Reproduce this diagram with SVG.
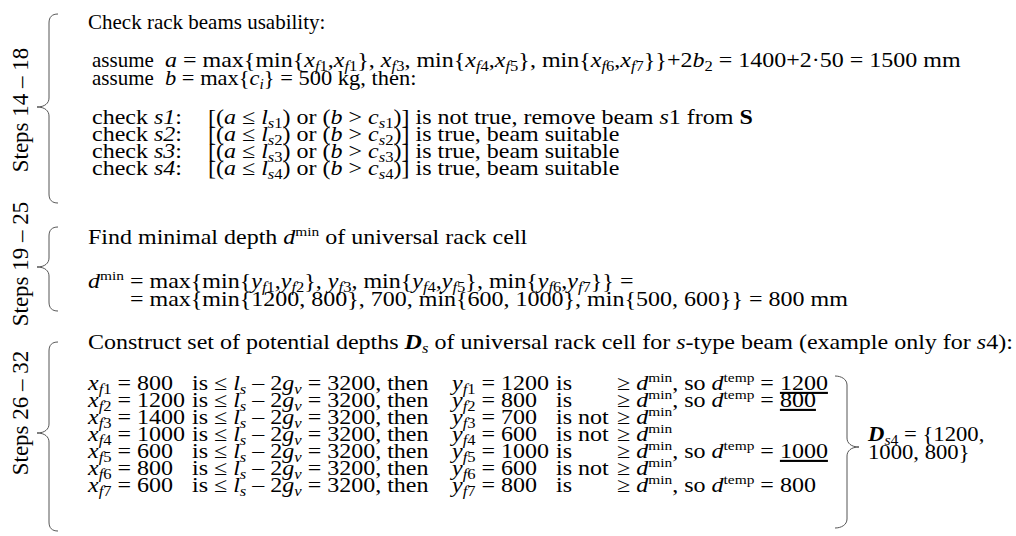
<svg xmlns="http://www.w3.org/2000/svg" width="1016" height="536" viewBox="0 0 1016 536">
<style>
text{font-family:"Liberation Serif","Times New Roman",serif;font-size:21px;fill:#000}
.i{font-style:italic}
.b{font-weight:bold}
.bi{font-weight:bold;font-style:italic}
.sub{font-size:14.5px;baseline-shift:-4px}
.sup{font-size:13.5px;baseline-shift:8px}
.u{text-decoration:underline}
.lab{font-size:23px}
.brace{fill:none;stroke:#555;stroke-width:1}
</style>
<rect width="1016" height="536" fill="#fff"/>
<g id="connectors">
<path class="brace" d="M58,14 C52,14 49,17 49,23 L49,98 C49,103 45,107 37,107 C45,107 49,111 49,116 L49,194 C49,200 52,203 58,203"/>
<path class="brace" d="M58,227 C52,227 49,230 49,236 L49,258 C49,263 45,267 37,267 C45,267 49,271 49,276 L49,302 C49,308 52,311 58,311"/>
<path class="brace" d="M58,342 C52,342 49,345 49,351 L49,424 C49,429 45,433 37,433 C45,433 49,437 49,442 L49,522 C49,528 52,531 58,531"/>
<path class="brace" d="M835,376 C841,376 847,379 847,385 L847,438 C847,443 851,447 859,447 C851,447 847,451 847,456 L847,519 C847,525 841,528 835,528"/>
</g>
<g id="labels">
<text class="lab" transform="translate(28,110) rotate(-90)" text-anchor="middle">Steps 14 – 18</text>
<text class="lab" transform="translate(28,264) rotate(-90)" text-anchor="middle">Steps 19 – 25</text>
<text class="lab" transform="translate(28,413) rotate(-90)" text-anchor="middle">Steps 26 – 32</text>
</g>
<g id="sec1">
<text x="88" y="29">Check rack beams usability:</text>
<text x="92" y="67">assume</text>
<text transform="translate(165 67) scale(1.143 1)"><tspan class="i">a</tspan> = max{min{<tspan class="i">x</tspan><tspan class="sub"><tspan class="i">f</tspan>1</tspan>,<tspan class="i">x</tspan><tspan class="sub"><tspan class="i">f</tspan>1</tspan>}, <tspan class="i">x</tspan><tspan class="sub"><tspan class="i">f</tspan>3</tspan>, min{<tspan class="i">x</tspan><tspan class="sub"><tspan class="i">f</tspan>4</tspan>,<tspan class="i">x</tspan><tspan class="sub"><tspan class="i">f</tspan>5</tspan>}, min{<tspan class="i">x</tspan><tspan class="sub"><tspan class="i">f</tspan>6</tspan>,<tspan class="i">x</tspan><tspan class="sub"><tspan class="i">f</tspan>7</tspan>}}+2<tspan class="i">b</tspan><tspan class="sub">2</tspan> = 1400+2·50 = 1500 mm</text>
<text x="92" y="85">assume</text>
<text transform="translate(165 85) scale(1.07 1)"><tspan class="i">b</tspan> = max{<tspan class="i">c</tspan><tspan class="sub i">i</tspan>} = 500 kg, then:</text>
<text transform="translate(92 124) scale(1.143 1)">check <tspan class="i">s1</tspan>:</text>
<text transform="translate(208 124) scale(1.143 1)">[(<tspan class="i">a</tspan> ≤ <tspan class="i">l</tspan><tspan class="sub"><tspan class="i">s</tspan>1</tspan>) or (<tspan class="i">b</tspan> &gt; <tspan class="i">c</tspan><tspan class="sub"><tspan class="i">s</tspan>1</tspan>)] is not true, remove beam <tspan class="i">s</tspan>1 from <tspan class="b">S</tspan></text>
<text transform="translate(92 141) scale(1.143 1)">check <tspan class="i">s2</tspan>:</text>
<text transform="translate(208 141) scale(1.143 1)">[(<tspan class="i">a</tspan> ≤ <tspan class="i">l</tspan><tspan class="sub"><tspan class="i">s</tspan>2</tspan>) or (<tspan class="i">b</tspan> &gt; <tspan class="i">c</tspan><tspan class="sub"><tspan class="i">s</tspan>2</tspan>)] is true, beam suitable</text>
<text transform="translate(92 158) scale(1.143 1)">check <tspan class="i">s3</tspan>:</text>
<text transform="translate(208 158) scale(1.143 1)">[(<tspan class="i">a</tspan> ≤ <tspan class="i">l</tspan><tspan class="sub"><tspan class="i">s</tspan>3</tspan>) or (<tspan class="i">b</tspan> &gt; <tspan class="i">c</tspan><tspan class="sub"><tspan class="i">s</tspan>3</tspan>)] is true, beam suitable</text>
<text transform="translate(92 175) scale(1.143 1)">check <tspan class="i">s4</tspan>:</text>
<text transform="translate(208 175) scale(1.143 1)">[(<tspan class="i">a</tspan> ≤ <tspan class="i">l</tspan><tspan class="sub"><tspan class="i">s</tspan>4</tspan>) or (<tspan class="i">b</tspan> &gt; <tspan class="i">c</tspan><tspan class="sub"><tspan class="i">s</tspan>4</tspan>)] is true, beam suitable</text>
</g>
<g id="sec2">
<text transform="translate(88 244) scale(1.143 1)">Find minimal depth <tspan class="i">d</tspan><tspan class="sup">min</tspan> of universal rack cell</text>
<text transform="translate(88 288) scale(1.143 1)"><tspan class="i">d</tspan><tspan class="sup">min</tspan> = max{min{<tspan class="i">y</tspan><tspan class="sub"><tspan class="i">f</tspan>1</tspan>,<tspan class="i">y</tspan><tspan class="sub"><tspan class="i">f</tspan>2</tspan>}, <tspan class="i">y</tspan><tspan class="sub"><tspan class="i">f</tspan>3</tspan>, min{<tspan class="i">y</tspan><tspan class="sub"><tspan class="i">f</tspan>4</tspan>,<tspan class="i">y</tspan><tspan class="sub"><tspan class="i">f</tspan>5</tspan>}, min{<tspan class="i">y</tspan><tspan class="sub"><tspan class="i">f</tspan>6</tspan>,<tspan class="i">y</tspan><tspan class="sub"><tspan class="i">f</tspan>7</tspan>}} =</text>
<text transform="translate(130 306) scale(1.143 1)">= max{min{1200, 800}, 700, min{600, 1000}, min{500, 600}} = 800 mm</text>
</g>
<g id="sec3">
<text transform="translate(88 349) scale(1.143 1)">Construct set of potential depths <tspan class="bi">D</tspan><tspan class="sub i">s</tspan> of universal rack cell for <tspan class="i">s</tspan>-type beam (example only for <tspan class="i">s</tspan>4):</text>
<text transform="translate(88 390) scale(1.143 1)"><tspan class="i">x</tspan><tspan class="sub"><tspan class="i">f</tspan>1</tspan> = 800</text>
<text transform="translate(88 407) scale(1.143 1)"><tspan class="i">x</tspan><tspan class="sub"><tspan class="i">f</tspan>2</tspan> = 1200</text>
<text transform="translate(88 424) scale(1.143 1)"><tspan class="i">x</tspan><tspan class="sub"><tspan class="i">f</tspan>3</tspan> = 1400</text>
<text transform="translate(88 441) scale(1.143 1)"><tspan class="i">x</tspan><tspan class="sub"><tspan class="i">f</tspan>4</tspan> = 1000</text>
<text transform="translate(88 458) scale(1.143 1)"><tspan class="i">x</tspan><tspan class="sub"><tspan class="i">f</tspan>5</tspan> = 600</text>
<text transform="translate(88 475) scale(1.143 1)"><tspan class="i">x</tspan><tspan class="sub"><tspan class="i">f</tspan>6</tspan> = 800</text>
<text transform="translate(88 492) scale(1.143 1)"><tspan class="i">x</tspan><tspan class="sub"><tspan class="i">f</tspan>7</tspan> = 600</text>
<text transform="translate(192 390) scale(1.143 1)">is ≤ <tspan class="i">l</tspan><tspan class="sub i">s</tspan> – 2<tspan class="i">g</tspan><tspan class="sub i">v</tspan> = 3200, then</text>
<text transform="translate(192 407) scale(1.143 1)">is ≤ <tspan class="i">l</tspan><tspan class="sub i">s</tspan> – 2<tspan class="i">g</tspan><tspan class="sub i">v</tspan> = 3200, then</text>
<text transform="translate(192 424) scale(1.143 1)">is ≤ <tspan class="i">l</tspan><tspan class="sub i">s</tspan> – 2<tspan class="i">g</tspan><tspan class="sub i">v</tspan> = 3200, then</text>
<text transform="translate(192 441) scale(1.143 1)">is ≤ <tspan class="i">l</tspan><tspan class="sub i">s</tspan> – 2<tspan class="i">g</tspan><tspan class="sub i">v</tspan> = 3200, then</text>
<text transform="translate(192 458) scale(1.143 1)">is ≤ <tspan class="i">l</tspan><tspan class="sub i">s</tspan> – 2<tspan class="i">g</tspan><tspan class="sub i">v</tspan> = 3200, then</text>
<text transform="translate(192 475) scale(1.143 1)">is ≤ <tspan class="i">l</tspan><tspan class="sub i">s</tspan> – 2<tspan class="i">g</tspan><tspan class="sub i">v</tspan> = 3200, then</text>
<text transform="translate(192 492) scale(1.143 1)">is ≤ <tspan class="i">l</tspan><tspan class="sub i">s</tspan> – 2<tspan class="i">g</tspan><tspan class="sub i">v</tspan> = 3200, then</text>
<text transform="translate(452 390) scale(1.143 1)"><tspan class="i">y</tspan><tspan class="sub"><tspan class="i">f</tspan>1</tspan> = 1200</text>
<text transform="translate(452 407) scale(1.143 1)"><tspan class="i">y</tspan><tspan class="sub"><tspan class="i">f</tspan>2</tspan> = 800</text>
<text transform="translate(452 424) scale(1.143 1)"><tspan class="i">y</tspan><tspan class="sub"><tspan class="i">f</tspan>3</tspan> = 700</text>
<text transform="translate(452 441) scale(1.143 1)"><tspan class="i">y</tspan><tspan class="sub"><tspan class="i">f</tspan>4</tspan> = 600</text>
<text transform="translate(452 458) scale(1.143 1)"><tspan class="i">y</tspan><tspan class="sub"><tspan class="i">f</tspan>5</tspan> = 1000</text>
<text transform="translate(452 475) scale(1.143 1)"><tspan class="i">y</tspan><tspan class="sub"><tspan class="i">f</tspan>6</tspan> = 600</text>
<text transform="translate(452 492) scale(1.143 1)"><tspan class="i">y</tspan><tspan class="sub"><tspan class="i">f</tspan>7</tspan> = 800</text>
<text transform="translate(556 390) scale(1.143 1)">is</text>
<text transform="translate(556 407) scale(1.143 1)">is</text>
<text transform="translate(556 424) scale(1.143 1)">is not</text>
<text transform="translate(556 441) scale(1.143 1)">is not</text>
<text transform="translate(556 458) scale(1.143 1)">is</text>
<text transform="translate(556 475) scale(1.143 1)">is not</text>
<text transform="translate(556 492) scale(1.143 1)">is</text>
<text transform="translate(617 390) scale(1.143 1)">≥ <tspan class="i">d</tspan><tspan class="sup">min</tspan>, so <tspan class="i">d</tspan><tspan class="sup">temp</tspan> = <tspan class="u">1200</tspan></text>
<text transform="translate(617 407) scale(1.143 1)">≥ <tspan class="i">d</tspan><tspan class="sup">min</tspan>, so <tspan class="i">d</tspan><tspan class="sup">temp</tspan> = <tspan class="u">800</tspan></text>
<text transform="translate(617 424) scale(1.143 1)">≥ <tspan class="i">d</tspan><tspan class="sup">min</tspan></text>
<text transform="translate(617 441) scale(1.143 1)">≥ <tspan class="i">d</tspan><tspan class="sup">min</tspan></text>
<text transform="translate(617 458) scale(1.143 1)">≥ <tspan class="i">d</tspan><tspan class="sup">min</tspan>, so <tspan class="i">d</tspan><tspan class="sup">temp</tspan> = <tspan class="u">1000</tspan></text>
<text transform="translate(617 475) scale(1.143 1)">≥ <tspan class="i">d</tspan><tspan class="sup">min</tspan></text>
<text transform="translate(617 492) scale(1.143 1)">≥ <tspan class="i">d</tspan><tspan class="sup">min</tspan>, so <tspan class="i">d</tspan><tspan class="sup">temp</tspan> = 800</text>
<text transform="translate(868 441) scale(1.08 1)"><tspan class="bi">D</tspan><tspan class="sub"><tspan class="i">s</tspan>4</tspan> = {1200,</text>
<text transform="translate(868 459) scale(1.08 1)">1000, 800}</text>
</g>
</svg>
